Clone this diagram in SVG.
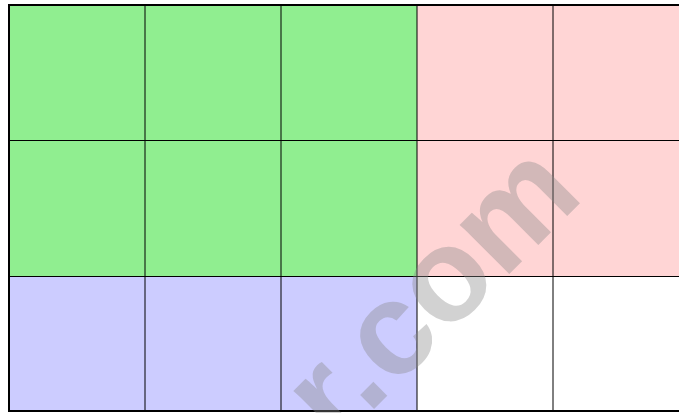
<svg xmlns="http://www.w3.org/2000/svg" width="679" height="413" viewBox="0 0 679 413">
  <style>
    .g { fill: #90EE90; }
    .p { fill: #FFD5D5; }
    .b { fill: #CCCCFF; }
    .w { fill: #FFFFFF; }
    .grid { stroke: #000; stroke-width: 1; fill: none; }
    .frame { stroke: #000; stroke-width: 2; fill: none; }
    .wm { font-family: "Liberation Sans", Arial, sans-serif; font-weight: bold; font-size: 132px; fill: #888888; fill-opacity: 0.38; }
  </style>
  <rect x="0" y="0" width="679" height="413" fill="#FFFFFF"/>
  <g id="cells">
    <rect id="c00" class="g" x="9" y="5" width="136" height="135.5"/>
    <rect id="c01" class="g" x="145" y="5" width="136" height="135.5"/>
    <rect id="c02" class="g" x="281" y="5" width="136" height="135.5"/>
    <rect id="c03" class="p" x="417" y="5" width="136" height="135.5"/>
    <rect id="c04" class="p" x="553" y="5" width="136" height="135.5"/>
    <rect id="c10" class="g" x="9" y="140.5" width="136" height="136"/>
    <rect id="c11" class="g" x="145" y="140.5" width="136" height="136"/>
    <rect id="c12" class="g" x="281" y="140.5" width="136" height="136"/>
    <rect id="c13" class="p" x="417" y="140.5" width="136" height="136"/>
    <rect id="c14" class="p" x="553" y="140.5" width="136" height="136"/>
    <rect id="c20" class="b" x="9" y="276.5" width="136" height="134.5"/>
    <rect id="c21" class="b" x="145" y="276.5" width="136" height="134.5"/>
    <rect id="c22" class="b" x="281" y="276.5" width="136" height="134.5"/>
    <rect id="c23" class="w" x="417" y="276.5" width="136" height="134.5"/>
    <rect id="c24" class="w" x="553" y="276.5" width="136" height="134.5"/>
  </g>
  <g id="gridlines" class="grid">
    <line x1="145" y1="5" x2="145" y2="411"/>
    <line x1="281" y1="5" x2="281" y2="411"/>
    <line x1="417" y1="5" x2="417" y2="411"/>
    <line x1="553" y1="5" x2="553" y2="411"/>
    <line x1="9" y1="140.5" x2="690" y2="140.5"/>
    <line x1="9" y1="276.5" x2="690" y2="276.5"/>
  </g>
  <rect class="frame" x="9" y="5" width="690" height="406"/>
  <text class="wm" transform="translate(336.6,446.5) rotate(-45)">r.com</text>
</svg>
